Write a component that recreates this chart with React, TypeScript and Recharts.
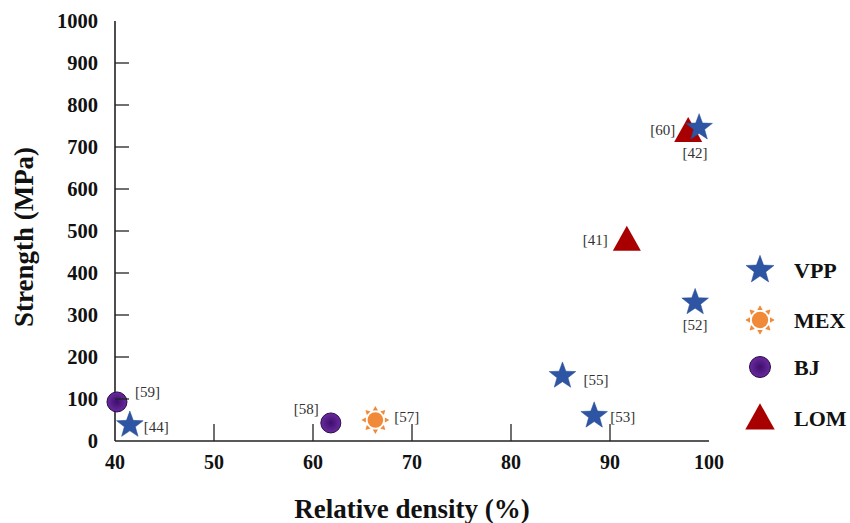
import React from 'react';
import { ScatterChart, Scatter, XAxis, YAxis, Legend } from 'recharts';

const xTicks = [40, 50, 60, 70, 80, 90, 100];
const yTicks = [0, 100, 200, 300, 400, 500, 600, 700, 800, 900, 1000];

const vppDensity = [41.5, 85.2, 88.4, 98.6, 99.0];
const vppStrength = [38, 155, 60, 330, 746];
const vppRefs = ['[44]', '[55]', '[53]', '[52]', '[42]'];

const mexDensity = [66.3];
const mexStrength = [50];
const mexRefs = ['[57]'];

const bjDensity = [40.2, 61.8];
const bjStrength = [93, 43];
const bjRefs = ['[59]', '[58]'];

const lomDensity = [97.9, 91.7];
const lomStrength = [738, 479];
const lomRefs = ['[60]', '[41]'];

const seriesNames = ['VPP', 'MEX', 'BJ', 'LOM'];

const build = (xs: number[], ys: number[], refs: string[]) =>
  xs.map((x, i) => ({ density: x, strength: ys[i], ref: refs[i] }));

const vppData = build(vppDensity, vppStrength, vppRefs);
const mexData = build(mexDensity, mexStrength, mexRefs);
const bjData = build(bjDensity, bjStrength, bjRefs);
const lomData = build(lomDensity, lomStrength, lomRefs);

// label placement (style): [dx, dy, anchor]
const labelPlace: Record<string, [number, number, string]> = {
  '[44]': [14, 7, 'start'],
  '[55]': [21, 9, 'start'],
  '[53]': [16, 6, 'start'],
  '[52]': [0, 28, 'middle'],
  '[42]': [-4, 30, 'middle'],
  '[57]': [19, 2, 'start'],
  '[59]': [18, -5, 'start'],
  '[58]': [-12, -9, 'end'],
  '[60]': [-13, 4, 'end'],
  '[41]': [-19, 5, 'end'],
};

const SERIF = '"Liberation Serif", "Times New Roman", serif';
const BLUE = '#2D55A3';
const ORANGE = '#F08A38';
const RED = '#A80000';

const starPath = (cx: number, cy: number, R: number, r: number) => {
  const pts: string[] = [];
  for (let i = 0; i < 10; i++) {
    const rad = i % 2 === 0 ? R : r;
    const a = -Math.PI / 2 + (i * Math.PI) / 5;
    pts.push(`${cx + rad * Math.cos(a)},${cy + rad * Math.sin(a)}`);
  }
  return `M${pts.join('L')}Z`;
};

const StarMark = ({ cx, cy, s = 1 }: any) => (
  <path d={starPath(cx, cy, 14 * s, 5.8 * s)} fill={BLUE} stroke="#264a90" strokeWidth={0.5} />
);

const SunMark = ({ cx, cy, s = 1 }: any) => {
  const rays = [];
  for (let i = 0; i < 8; i++) {
    const a = (i * Math.PI) / 4;
    const r1 = 9.5 * s, r2 = 14 * s, w = 2.6 * s;
    const px = Math.cos(a), py = Math.sin(a);
    const qx = -py, qy = px;
    rays.push(
      <path
        key={i}
        d={`M${cx + px * r1 + qx * w},${cy + py * r1 + qy * w}L${cx + px * r2},${cy + py * r2}L${cx + px * r1 - qx * w},${cy + py * r1 - qy * w}Z`}
        fill={ORANGE}
      />
    );
  }
  return (
    <g>
      {rays}
      <circle cx={cx} cy={cy} r={7.8 * s} fill={ORANGE} />
    </g>
  );
};

const CircleMark = ({ cx, cy, s = 1, grad = 'bjGrad' }: any) => (
  <circle cx={cx} cy={cy} r={10 * s} fill={`url(#${grad})`} stroke="#2a0c4c" strokeWidth={1} />
);

const TriMark = ({ cx, cy, s = 1 }: any) => (
  <path
    d={`M${cx},${cy - 14 * s}L${cx + 14 * s},${cy + 11 * s}L${cx - 14 * s},${cy + 11 * s}Z`}
    fill={RED}
  />
);

const RefLabel = ({ cx, cy, ref_ }: any) => {
  const p = labelPlace[ref_] || [14, 5, 'start'];
  return (
    <text x={cx + p[0]} y={cy + p[1]} textAnchor={p[2] as any} fontFamily={SERIF} fontSize={15} fill="#333">
      {ref_}
    </text>
  );
};

const makeShape = (Mark: any) => (props: any) => {
  const { cx, cy, payload } = props;
  return (
    <g>
      <Mark cx={cx} cy={cy} />
      <RefLabel cx={cx} cy={cy} ref_={payload.ref} />
    </g>
  );
};

const XTick = (props: any) => {
  const { x, y, payload } = props;
  const v = payload.value;
  const inner = v !== 40 && v !== 100;
  return (
    <g>
      {inner && <line x1={x} y1={y} x2={x} y2={y - 17} stroke="#222" strokeWidth={1.3} />}
      <text x={x} y={y + 28} textAnchor="middle" fontFamily={SERIF} fontWeight="bold" fontSize={20} fill="#111">
        {v}
      </text>
    </g>
  );
};

const YTick = (props: any) => {
  const { x, y, payload } = props;
  const v = payload.value;
  const inner = v !== 0 && v !== 1000;
  return (
    <g>
      {inner && <line x1={x} y1={y} x2={x + 14} y2={y} stroke="#222" strokeWidth={1.3} />}
      <text x={x - 17} y={y + 7} textAnchor="end" fontFamily={SERIF} fontWeight="bold" fontSize={20.5} fill="#111">
        {v}
      </text>
    </g>
  );
};

const YTitle = (props: any) => {
  const vb = props.viewBox || { x: 55, y: 21, width: 60, height: 420 };
  const cx = vb.x - 31;
  const cy = vb.y + vb.height / 2 + 6;
  return (
    <text
      x={cx}
      y={cy}
      transform={`rotate(-90 ${cx} ${cy})`}
      textAnchor="middle"
      dominantBaseline="central"
      fontFamily={SERIF}
      fontWeight="bold"
      fontSize={27}
      fill="#111"
    >
      Strength (MPa)
    </text>
  );
};

const XTitle = (props: any) => {
  const vb = props.viewBox || { x: 115, y: 441, width: 594, height: 30 };
  return (
    <text
      x={vb.x + vb.width / 2}
      y={vb.y + 77}
      textAnchor="middle"
      fontFamily={SERIF}
      fontWeight="bold"
      fontSize={27}
      fill="#111"
    >
      Relative density (%)
    </text>
  );
};

const legendMarks = [StarMark, SunMark, CircleMark, TriMark];
const legendRowY = [20, 70, 117, 168];

const LegendContent = () => (
  <svg width={110} height={190}>
    <defs>
      <radialGradient id="bjGradL" cx="50%" cy="50%" r="50%">
        <stop offset="0%" stopColor="#3e0f6c" />
        <stop offset="100%" stopColor="#6a2a9e" />
      </radialGradient>
    </defs>
    {seriesNames.map((name, i) => {
      const M = legendMarks[i];
      return (
        <g key={name}>
          <M cx={20} cy={legendRowY[i]} s={1.05} grad="bjGradL" />
          <text x={54} y={legendRowY[i] + 8} fontFamily={SERIF} fontWeight="bold" fontSize={22} fill="#111">
            {name}
          </text>
        </g>
      );
    })}
  </svg>
);

export default function App() {
  return (
    <div style={{ position: 'absolute', left: 0, top: 0, width: 850, height: 523, background: '#fff' }}>
      <ScatterChart width={850} height={523} margin={{ top: 21, right: 141, bottom: 52, left: 55 }}>
        <defs>
          <radialGradient id="bjGrad" cx="50%" cy="50%" r="50%">
            <stop offset="0%" stopColor="#3e0f6c" />
            <stop offset="100%" stopColor="#6a2a9e" />
          </radialGradient>
        </defs>
        <XAxis
          type="number"
          dataKey="density"
          domain={[40, 100]}
          ticks={xTicks}
          interval={0}
          height={30}
          tickSize={0}
          tickMargin={0}
          tickLine={false}
          tick={<XTick />}
          axisLine={{ stroke: '#222', strokeWidth: 1.6 }}
          label={<XTitle />}
        />
        <XAxis
          xAxisId="top"
          orientation="top"
          type="number"
          domain={[40, 100]}
          height={0}
          tick={false}
          tickLine={false}
          axisLine={{ stroke: '#222', strokeWidth: 1.6 }}
        />
        <YAxis
          type="number"
          dataKey="strength"
          domain={[0, 1000]}
          ticks={yTicks}
          interval={0}
          width={60}
          tickSize={0}
          tickMargin={0}
          tickLine={false}
          tick={<YTick />}
          axisLine={{ stroke: '#222', strokeWidth: 1.6 }}
          label={<YTitle />}
        />
        <YAxis
          yAxisId="right"
          orientation="right"
          type="number"
          domain={[0, 1000]}
          width={0}
          tick={false}
          tickLine={false}
          axisLine={{ stroke: '#222', strokeWidth: 1.6 }}
        />
        <Legend
          layout="horizontal"
          align="center"
          verticalAlign="middle"
          wrapperStyle={{ left: 740, top: 250, width: 110, height: 190 }}
          content={<LegendContent />}
        />
        <Scatter name="LOM" data={lomData} shape={makeShape(TriMark)} isAnimationActive={false} />
        <Scatter name="VPP" data={vppData} shape={makeShape(StarMark)} isAnimationActive={false} />
        <Scatter name="MEX" data={mexData} shape={makeShape(SunMark)} isAnimationActive={false} />
        <Scatter name="BJ" data={bjData} shape={makeShape(CircleMark)} isAnimationActive={false} />
      </ScatterChart>
    </div>
  );
}
